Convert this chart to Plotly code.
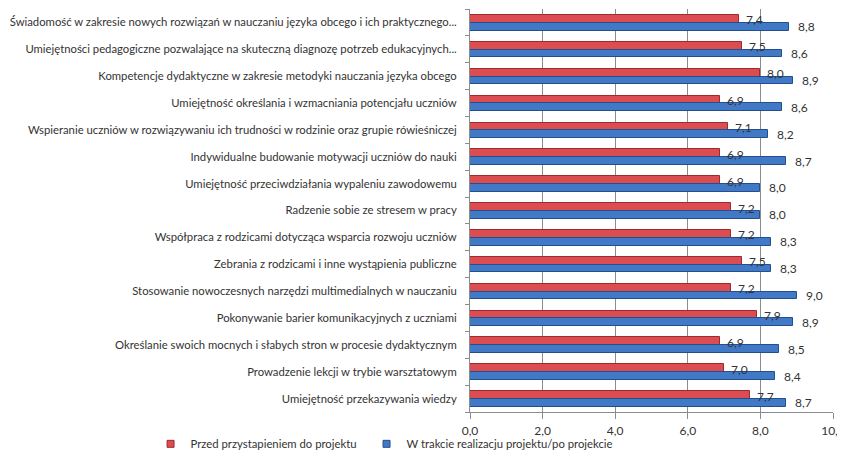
import plotly.graph_objects as go

categories = [
    "Świadomość w zakresie nowych rozwiązań w nauczaniu języka obcego i ich praktycznego...",
    "Umiejętności pedagogiczne pozwalające na skuteczną diagnozę potrzeb edukacyjnych...",
    "Kompetencje dydaktyczne w zakresie metodyki nauczania języka obcego",
    "Umiejętność określania i wzmacniania potencjału uczniów",
    "Wspieranie uczniów w rozwiązywaniu ich trudności w rodzinie oraz grupie rówieśniczej",
    "Indywidualne budowanie motywacji uczniów do nauki",
    "Umiejętność przeciwdziałania wypaleniu zawodowemu",
    "Radzenie sobie ze stresem w pracy",
    "Współpraca z rodzicami dotycząca wsparcia rozwoju uczniów",
    "Zebrania z rodzicami i inne wystąpienia publiczne",
    "Stosowanie nowoczesnych narzędzi multimedialnych w nauczaniu",
    "Pokonywanie barier komunikacyjnych z uczniami",
    "Określanie swoich mocnych i słabych stron w procesie dydaktycznym",
    "Prowadzenie lekcji w trybie warsztatowym",
    "Umiejętność przekazywania wiedzy",
]
before = [7.4, 7.5, 8.0, 6.9, 7.1, 6.9, 6.9, 7.2, 7.2, 7.5, 7.2, 7.9, 6.9, 7.0, 7.7]
after = [8.8, 8.6, 8.9, 8.6, 8.2, 8.7, 8.0, 8.0, 8.3, 8.3, 9.0, 8.9, 8.5, 8.4, 8.7]
series_names = ["Przed przystapieniem do projektu", "W trakcie realizacju projektu/po projekcie"]
x_ticks = [0, 2, 4, 6, 8, 10]

FONT = "Lato"
FS = 11.3
TXT = "#333333"
RED, RED_LINE = "#DC4D52", "#9E2A2E"
BLUE, BLUE_LINE = "#4179C6", "#234F8C"
GRID = "#8C8C8C"

n = len(categories)
pos = list(range(n))
red_off, blue_off, bw = -0.13, 0.16, 0.29
y_red = [p + red_off for p in pos]
y_blue = [p + blue_off for p in pos]

fig = go.Figure()
fig.add_trace(go.Bar(y=y_red, x=before, orientation="h", width=bw,
                     marker=dict(color=RED, line=dict(color=RED_LINE, width=1)),
                     showlegend=False, name=series_names[0]))
fig.add_trace(go.Bar(y=y_blue, x=after, orientation="h", width=bw,
                     marker=dict(color=BLUE, line=dict(color=BLUE_LINE, width=1)),
                     showlegend=False, name=series_names[1]))
# legend entries
fig.add_trace(go.Scatter(x=[None], y=[None], mode="markers", name=series_names[0],
                         marker=dict(symbol="square", size=7, color=RED, line=dict(color=RED_LINE, width=1)),
                         legend="legend"))
fig.add_trace(go.Scatter(x=[None], y=[None], mode="markers", name=series_names[1],
                         marker=dict(symbol="square", size=7, color=BLUE, line=dict(color=BLUE_LINE, width=1)),
                         legend="legend2"))

def fmt(v):
    return f"{v:.1f}".replace(".", ",")

for yv, v in zip(y_red, before):
    fig.add_annotation(x=v, y=yv, text=fmt(v), showarrow=False, xanchor="left",
                       xshift=5, yshift=-1, font=dict(family=FONT, size=12, color=TXT))
for yv, v in zip(y_blue, after):
    fig.add_annotation(x=v, y=yv, text=fmt(v), showarrow=False, xanchor="left",
                       xshift=7, font=dict(family=FONT, size=12, color=TXT))

legend_font = dict(family=FONT, size=FS, color=TXT)
# page body has an 8px margin: figure is sized so the plot lands where the reference has it
fig.update_layout(
    width=837, height=442,
    margin=dict(l=462, r=12, t=1, b=38, autoexpand=False),
    paper_bgcolor="white", plot_bgcolor="white",
    bargap=0, barmode="overlay",
    font=dict(family=FONT, size=FS, color=TXT),
    separators=",.",
    legend=dict(orientation="h", x=-0.88, xanchor="left", y=-0.079, yanchor="middle",
                font=legend_font, bgcolor="rgba(0,0,0,0)"),
    legend2=dict(orientation="h", x=-0.285, xanchor="left", y=-0.079, yanchor="middle",
                 font=legend_font, bgcolor="rgba(0,0,0,0)"),
)
fig.update_xaxes(range=[0, 10], tickvals=x_ticks, tickformat=".1f",
                 showgrid=True, gridcolor=GRID, gridwidth=1,
                 showline=True, linecolor=GRID, linewidth=1,
                 ticks="outside", ticklen=6, tickcolor=GRID,
                 ticklabelstandoff=2, zeroline=False, automargin=False,
                 tickfont=dict(family=FONT, size=12, color=TXT))
fig.update_yaxes(range=[n - 0.5, -0.5], tickvals=pos, ticktext=categories,
                 showgrid=False, zeroline=False, automargin=False,
                 showline=True, linecolor=GRID, linewidth=1,
                 ticks="", ticklabelstandoff=10,
                 minor=dict(tick0=-0.5, dtick=1, ticks="outside", ticklen=4, tickcolor=GRID, showgrid=False),
                 tickfont=dict(family=FONT, size=FS, color=TXT))

fig.write_html("out.html")
